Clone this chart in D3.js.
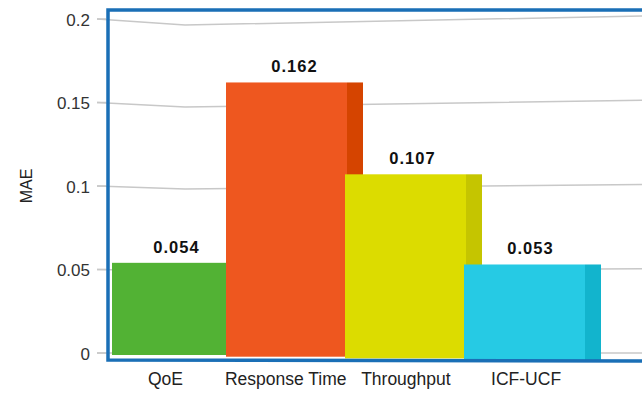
<!DOCTYPE html>
<html>
<head>
<meta charset="utf-8">
<script src="https://cdn.jsdelivr.net/npm/d3@7"></script>
<style>
  body { margin: 0; background: #fff; }
  text { font-family: "Liberation Sans", Arial, sans-serif; }
</style>
</head>
<body>
<div id="chart"></div>
<script>
// chart data
var categories = ["QoE", "Response Time", "Throughput", "ICF-UCF"];
var values = [0.054, 0.162, 0.107, 0.053];
var frontColors = ["#52b234", "#ee571f", "#dcdc00", "#26cae4"];
var sideColors = ["#3f9a26", "#d54400", "#c5c500", "#12b4cd"];
var yTicks = [0, 0.05, 0.1, 0.15, 0.2];
var yTickLabels = ["0", "0.05", "0.1", "0.15", "0.2"];

function init(){
    var w = 642, h = 395;
    var frameLeft = 108, frameTop = 10, frameBottom = 360;

    var svg = d3.select("#chart").append("svg")
        .attr("width", w)
        .attr("height", h);

    var yScale = d3.scaleLinear()
        .domain([0, 0.2])
        .range([353, 19]);

    var xScale = d3.scaleBand()
        .domain(categories)
        .range([107, 583])
        .paddingInner(0);

    // gridlines (slightly warped, like the picture)
    yTicks.forEach(function(t){
        var y = yScale(t);
        var pts = [[97, y], [185, y + 30 * t], [w, y - 15 * t]];
        svg.append("path")
            .attr("d", d3.line()(pts))
            .attr("fill", "none")
            .attr("stroke", "#c8c8c8")
            .attr("stroke-width", 1.5);
    });

    // y axis labels
    var yAxis = d3.axisLeft(yScale)
        .tickValues(yTicks)
        .tickFormat(function(d, i){ return yTickLabels[i]; })
        .tickSize(0)
        .tickPadding(0);
    var gy = svg.append("g")
        .attr("transform", "translate(90,1)")
        .call(yAxis);
    gy.select(".domain").remove();
    gy.selectAll("text")
        .attr("font-size", 17)
        .attr("fill", "#333")
        .style("font-family", "'Liberation Sans', Arial, sans-serif");

    svg.append("text")
        .attr("transform", "translate(32," + yScale(0.1) + ") rotate(-90)")
        .attr("text-anchor", "middle")
        .attr("font-size", 16)
        .attr("fill", "#222")
        .text("MAE");

    // bars
    var bw = xScale.bandwidth();
    var depth = 16;
    categories.forEach(function(c, i){
        var x0 = xScale(c);
        var yTop = yScale(values[i]);
        var yBot = yScale(0) + 2 + i * 1.7;
        svg.append("rect")
            .attr("x", x0 + bw + 2)
            .attr("y", yTop)
            .attr("width", depth)
            .attr("height", yBot - yTop)
            .attr("fill", sideColors[i]);
        svg.append("rect")
            .attr("x", i === 0 ? x0 + 5 : x0)
            .attr("y", yTop)
            .attr("width", i === 0 ? bw - 3 : bw + 2)
            .attr("height", yBot - yTop)
            .attr("fill", frontColors[i]);
        svg.append("text")
            .attr("x", x0 + bw / 2 + 10 - i)
            .attr("y", yTop - 10)
            .attr("text-anchor", "middle")
            .attr("font-size", 16.5)
            .attr("font-weight", "bold")
            .attr("letter-spacing", 1)
            .attr("fill", "#111")
            .text(values[i].toFixed(3));
        svg.append("text")
            .attr("x", x0 + bw / 2 - 1 + i * 1.2)
            .attr("y", 385)
            .attr("text-anchor", "middle")
            .attr("font-size", 17.5)
            .attr("fill", "#222")
            .text(c);
    });

    // blue frame
    svg.append("path")
        .attr("d", d3.line()([[w, frameTop], [frameLeft, frameTop], [frameLeft, frameBottom], [w, frameBottom + 1]]))
        .attr("fill", "none")
        .attr("stroke", "#1a6fb6")
        .attr("stroke-width", 3.5);

    // tick stubs
    yTicks.forEach(function(t){
        svg.append("line")
            .attr("x1", 97).attr("x2", frameLeft - 2)
            .attr("y1", yScale(t)).attr("y2", yScale(t))
            .attr("stroke", "#c8c8c8")
            .attr("stroke-width", 1.5);
    });
}

window.onload = init;
</script>
</body>
</html>
